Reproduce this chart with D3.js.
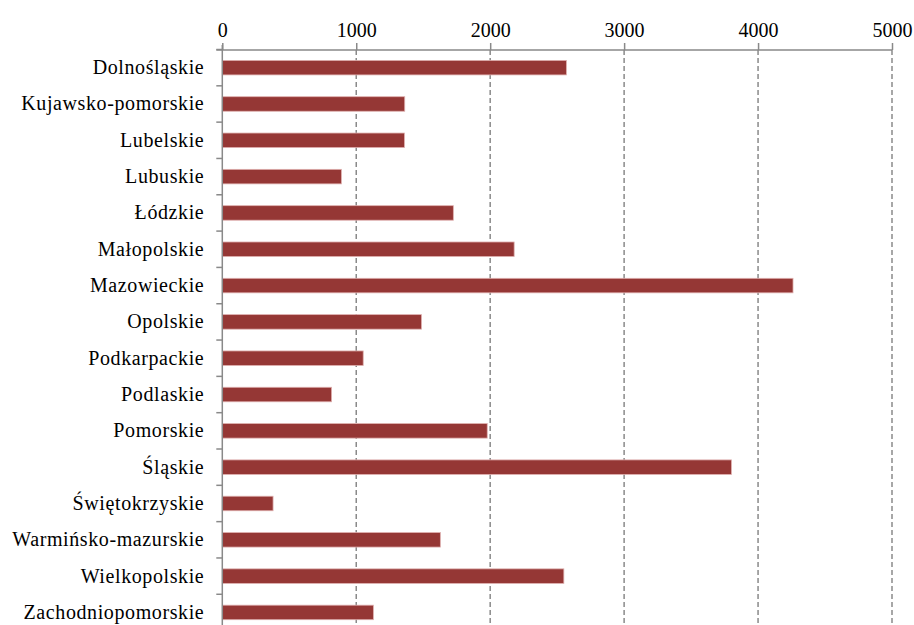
<!DOCTYPE html>
<html><head><meta charset="utf-8">
<script src="https://cdn.jsdelivr.net/npm/d3@7"></script>
</head>
<body style="margin:0;background:#fff;overflow:hidden">
<svg id="chart" width="914" height="625" style="display:block"></svg>
<script>
const categories = ["Dolnośląskie","Kujawsko-pomorskie","Lubelskie","Lubuskie","Łódzkie","Małopolskie","Mazowieckie","Opolskie","Podkarpackie","Podlaskie","Pomorskie","Śląskie","Świętokrzyskie","Warmińsko-mazurskie","Wielkopolskie","Zachodniopomorskie"];
const values = [2569,1362,1360,889,1725,2179,4261,1487,1052,816,1978,3801,379,1628,2550,1128];
const xTicks = [0,1000,2000,3000,4000,5000];

const svg = d3.select("#chart");
const mLeft = 222.3, mRight = 892, mTop = 50, mBottom = 630.6;
const FONT = "Liberation Serif";

const x = d3.scaleLinear().domain([0,5000]).range([mLeft,mRight]);
const y = d3.scaleBand().domain(categories).range([49.5,mBottom]).paddingInner(0.6).paddingOuter(0.3);

// gridlines
svg.append("g").selectAll("line").data(xTicks.filter(d=>d>0)).join("line")
  .attr("x1",d=>x(d)).attr("x2",d=>x(d)).attr("y1",mTop).attr("y2",625)
  .attr("stroke","#8a8a8a").attr("stroke-width",1.5).attr("stroke-dasharray","5,3");

// bars
svg.append("g").selectAll("rect").data(categories).join("rect")
  .attr("x",x(0)).attr("y",d=>y(d))
  .attr("width",(d,i)=>x(values[i])-x(0)).attr("height",y.bandwidth())
  .attr("fill","#953735").attr("stroke","#dfb0af").attr("stroke-width",0.8);

// top axis
const xa = svg.append("g").attr("transform",`translate(0,${mTop})`)
  .call(d3.axisTop(x).tickValues(xTicks).tickSize(7).tickPadding(6).tickFormat(d3.format("d")));
xa.attr("font-family",FONT).attr("font-size",20);
xa.select(".domain").attr("stroke","#898989").attr("stroke-width",1.5).attr("d",`M${mLeft-6},0H${mRight}`);
xa.selectAll(".tick line").attr("stroke","#898989").attr("stroke-width",1.5);
xa.selectAll(".tick text").style("font-family",FONT).style("font-size","20px").attr("fill","#000");

// left axis: labels
const ya = svg.append("g").attr("transform",`translate(${mLeft},0)`)
  .call(d3.axisLeft(y).tickSize(0).tickPadding(18));
ya.attr("font-family",FONT).attr("font-size",20);
ya.select(".domain").remove();
ya.selectAll(".tick text").style("font-family",FONT).style("font-size","20px")
  .style("letter-spacing","0.6px").attr("fill","#000");

// left axis line + boundary ticks
svg.append("line").attr("x1",mLeft).attr("x2",mLeft).attr("y1",45).attr("y2",625)
  .attr("stroke","#898989").attr("stroke-width",1.5);
const bounds = d3.range(categories.length+1).map(i=>y.range()[0]+i*y.step());
svg.append("g").selectAll("line").data(bounds).join("line")
  .attr("x1",mLeft-6).attr("x2",mLeft).attr("y1",d=>d).attr("y2",d=>d)
  .attr("stroke","#898989").attr("stroke-width",1.5);
</script>
</body></html>
